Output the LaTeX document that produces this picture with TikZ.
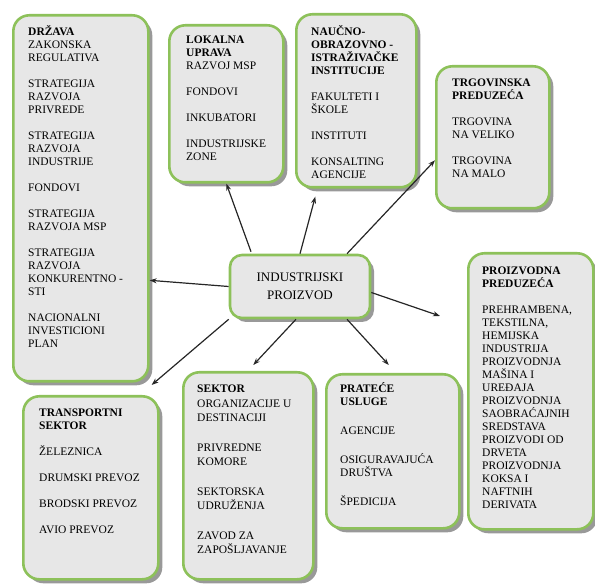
\documentclass[tikz,border=0pt]{standalone}
\usepackage{fontspec}
\setmainfont{Liberation Serif}
\usetikzlibrary{arrows.meta,shadows}
\definecolor{boxgreen}{RGB}{141,193,90}
\definecolor{boxfill}{RGB}{231,231,231}
\newcommand{\blank}{\\[13pt]}

\begin{document}
\begin{tikzpicture}[x=1pt,y=-1pt,
        card/.style={draw=boxgreen,line width=2.6pt,fill=boxfill,rounded corners=16pt,
            anchor=north west,inner sep=0pt,
            drop shadow={shadow xshift=4pt,shadow yshift=-4pt,fill=black!40,opacity=1}},
        cardtext/.style={anchor=north west,inner sep=0pt,align=left,
            font=\fontsize{11.5}{13}\selectfont},
        link/.style={-{Stealth[length=7pt,width=5pt]},line width=1.2pt,draw=black!85}]
        \useasboundingbox (0,0) rectangle (595,585);

        \node[card,minimum width=135pt,minimum height=366pt] (drzava) at (12,14) {};
        \node[card,minimum width=114pt,minimum height=157pt] (lokalna) at (168,24) {};
        \node[card,minimum width=120pt,minimum height=173pt] (naucno) at (295,13) {};
        \node[card,minimum width=113pt,minimum height=142pt] (trgovinska) at (435,65) {};
        \node[card,minimum width=125pt,minimum height=276pt] (proizvodna) at (467,252) {};
        \node[card,minimum width=135pt,minimum height=183pt] (transportni) at (22,395) {};
        \node[card,minimum width=130pt,minimum height=207pt] (sektor) at (182,371) {};
        \node[card,minimum width=133pt,minimum height=154pt] (pratece) at (325,373) {};
        \node[card,rounded corners=12pt,minimum width=140pt,minimum height=63pt,anchor=center,
            align=center,font=\fontsize{13}{18}\selectfont] (ind) at (300,286.5) {INDUSTRIJSKI\\PROIZVOD};

        \node[cardtext] (drzavaTxt) at ([shift={(16,11)}]drzava.north west)
            {\textbf{DRŽAVA}\\ZAKONSKA\\REGULATIVA\blank STRATEGIJA\\RAZVOJA\\PRIVREDE\blank
             STRATEGIJA\\RAZVOJA\\INDUSTRIJE\blank FONDOVI\blank STRATEGIJA\\RAZVOJA MSP\blank
             STRATEGIJA\\RAZVOJA\\KONKURENTNO -\\STI\blank NACIONALNI\\INVESTICIONI\\PLAN};
        \node[cardtext] (lokalnaTxt) at ([shift={(18,12)}]lokalna.north west)
            {\textbf{LOKALNA}\\\textbf{UPRAVA}\\RAZVOJ MSP\blank FONDOVI\blank INKUBATORI\blank
             INDUSTRIJSKE\\ZONE};
        \node[cardtext] (naucnoTxt) at ([shift={(16,12)}]naucno.north west)
            {\textbf{NAUČNO-}\\\textbf{OBRAZOVNO -}\\\textbf{ISTRAŽIVAČKE}\\\textbf{INSTITUCIJE}\blank
             FAKULTETI I\\ŠKOLE\blank INSTITUTI\blank KONSALTING\\AGENCIJE};
        \node[cardtext] (trgovinskaTxt) at ([shift={(17,14)}]trgovinska.north west)
            {\textbf{TRGOVINSKA}\\\textbf{PREDUZEĆA}\blank TRGOVINA\\NA VELIKO\blank TRGOVINA\\NA MALO};
        \node[cardtext] (proizvodnaTxt) at ([shift={(15,15)}]proizvodna.north west)
            {\textbf{PROIZVODNA}\\\textbf{PREDUZEĆA}\blank PREHRAMBENA,\\TEKSTILNA,\\HEMIJSKA\\INDUSTRIJA\\
             PROIZVODNJA\\MAŠINA I\\UREĐAJA\\PROIZVODNJA\\SAOBRAĆAJNIH\\SREDSTAVA\\PROIZVODI OD\\
             DRVETA\\PROIZVODNJA\\KOKSA I\\NAFTNIH\\DERIVATA};
        \node[cardtext] (transportniTxt) at ([shift={(17,14)}]transportni.north west)
            {\textbf{TRANSPORTNI}\\\textbf{SEKTOR}\blank ŽELEZNICA\blank DRUMSKI PREVOZ\blank
             BRODSKI PREVOZ\blank AVIO PREVOZ};
        \node[cardtext,font=\fontsize{11.5}{14.5}\selectfont] (sektorTxt) at ([shift={(15,14)}]sektor.north west)
            {\textbf{SEKTOR}\\ORGANIZACIJE U\\DESTINACIJI\\[15pt]PRIVREDNE\\KOMORE\\[15pt]
             SEKTORSKA\\UDRUŽENJA\\[15pt]ZAVOD ZA\\ZAPOŠLJAVANJE};
        \node[cardtext] (prateceTxt) at ([shift={(15,9)}]pratece.north west)
            {\textbf{PRATEĆE}\\\textbf{USLUGE}\\[16pt]AGENCIJE\\[16pt]OSIGURAVAJUĆA\\DRUŠTVA\\[16pt]ŠPEDICIJA};

        \coordinate (pz) at (440,316);
        \draw[link] (ind.west) -- ([shift={(0,82)}]drzava.east);
        \draw[link] ([shift={(-49,-2)}]ind.north) -- (lokalna.south);
        \draw[link] (ind.north) -- ([shift={(-41,8)}]naucno.south);
        \draw[link] ([shift={(47,0)}]ind.north) -- ([shift={(0,23)}]trgovinska.west);
        \draw[link] ([shift={(0,6)}]ind.east) -- (pz);
        \draw[link] (ind.south west) -- ([shift={(-8,-10)}]transportni.north east);
        \draw[link] ([shift={(-4,0)}]ind.south) -- ([shift={(5,-6)}]sektor.north);
        \draw[link] ([shift={(47,0)}]ind.south) -- ([shift={(-4,-8)}]pratece.north);
    \end{tikzpicture}
\end{document}
